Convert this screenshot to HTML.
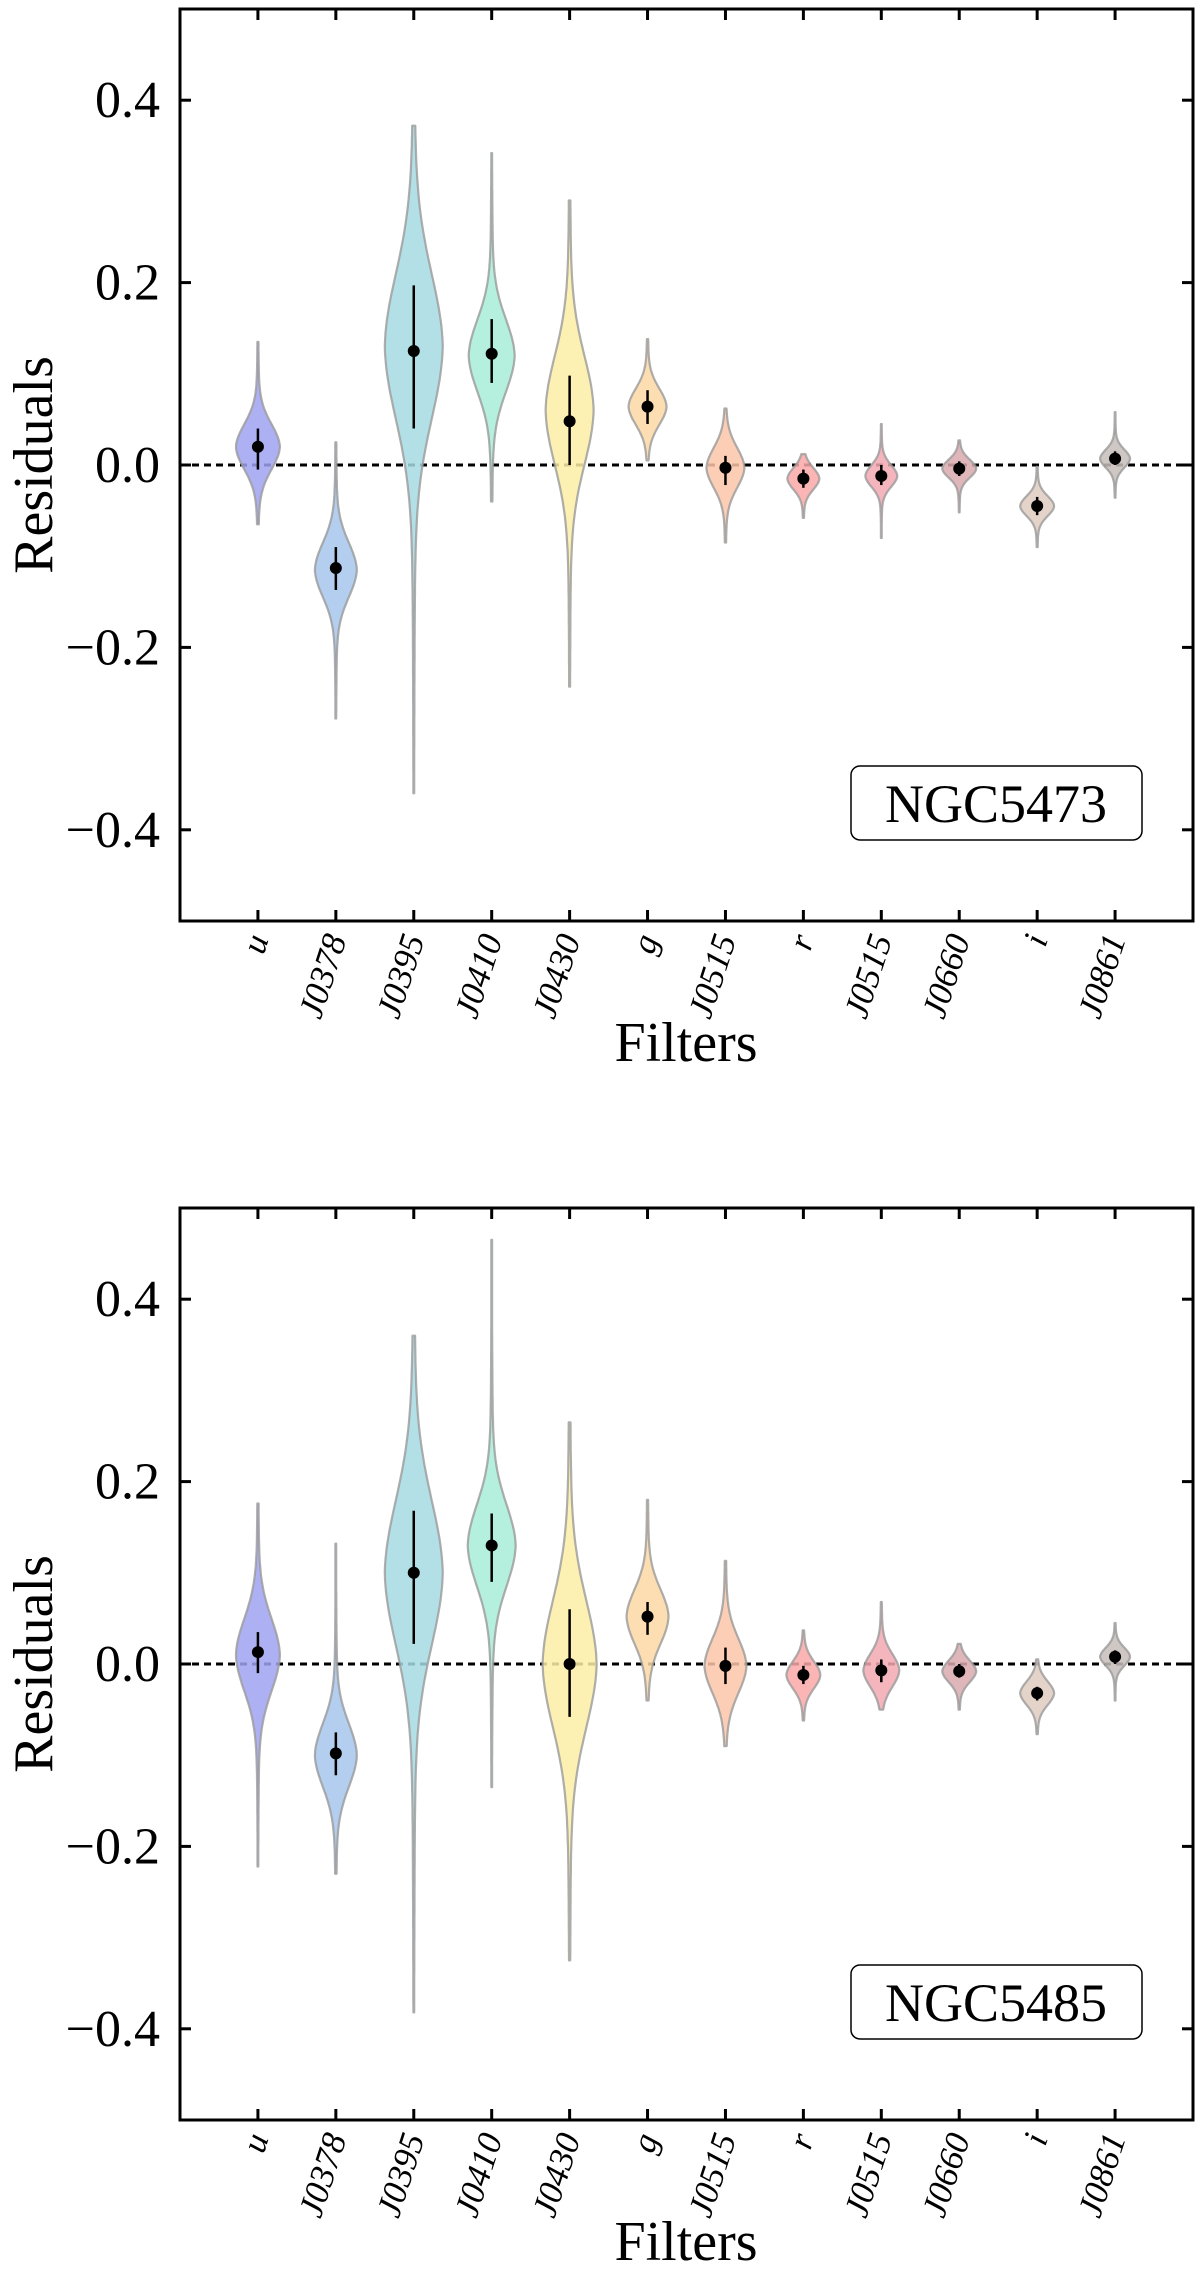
<!DOCTYPE html>
<html><head><meta charset="utf-8">
<style>
html,body{margin:0;padding:0;background:#fff;}
svg{display:block;font-family:"Liberation Serif",serif;}
</style></head>
<body>
<svg id="chart" width="1200" height="2287" viewBox="0 0 1200 2287" xmlns="http://www.w3.org/2000/svg"></svg>
<script>
const categories = ["u","J0378","J0395","J0410","J0430","g","J0515","r","J0515","J0660","i","J0861"];
const fillColors = ["#9fa3f2","#a6c6ec","#a6dbe3","#a8ecd8","#fcefa6","#fdd8a4","#fcc6a8","#fba8a8","#f2a8b2","#d9a9ae","#dfcbc0","#c6bdb8"];
const yTicks = [-0.4,-0.2,0.0,0.2,0.4];
const yTickLabels = ["\u22120.4","\u22120.2","0.0","0.2","0.4"];
const panelNames = ["NGC5473","NGC5485"];
// top panel
const p1Median = [0.02,-0.113,0.125,0.122,0.048,0.064,-0.003,-0.015,-0.012,-0.004,-0.045,0.007];
const p1ErrHi  = [0.04,-0.09,0.197,0.16,0.098,0.082,0.01,-0.005,0.0,0.004,-0.035,0.015];
const p1ErrLo  = [-0.005,-0.137,0.04,0.09,0.0,0.045,-0.022,-0.025,-0.022,-0.012,-0.055,0.0];
const p1Max    = [0.135,0.025,0.372,0.342,0.29,0.138,0.062,0.012,0.045,0.027,-0.002,0.058];
const p1Min    = [-0.065,-0.278,-0.36,-0.04,-0.243,0.005,-0.085,-0.058,-0.08,-0.052,-0.09,-0.036];
const p1Mode   = [0.02,-0.115,0.13,0.12,0.06,0.064,-0.003,-0.015,-0.012,-0.004,-0.045,0.007];
const p1Spread = [0.025,0.03,0.08,0.04,0.06,0.02,0.022,0.012,0.012,0.01,0.011,0.01];
const p1Density= [22,21,29,23,24,19,19,16,16,17,17,15];
// bottom panel
const p2Median = [0.013,-0.098,0.1,0.13,0.0,0.052,-0.002,-0.012,-0.007,-0.008,-0.032,0.008];
const p2ErrHi  = [0.035,-0.075,0.168,0.165,0.06,0.068,0.018,-0.002,0.005,0.0,-0.025,0.015];
const p2ErrLo  = [-0.01,-0.122,0.022,0.09,-0.058,0.032,-0.022,-0.022,-0.02,-0.015,-0.04,0.0];
const p2Max    = [0.176,0.132,0.36,0.465,0.265,0.18,0.113,0.037,0.068,0.022,0.005,0.045];
const p2Min    = [-0.222,-0.23,-0.382,-0.135,-0.325,-0.04,-0.09,-0.062,-0.05,-0.05,-0.077,-0.04];
const p2Mode   = [0.01,-0.1,0.1,0.13,0.0,0.052,-0.002,-0.012,-0.007,-0.008,-0.032,0.008];
const p2Spread = [0.04,0.035,0.08,0.045,0.07,0.03,0.03,0.015,0.018,0.012,0.013,0.01];
const p2Density= [22,21,29,24,27,21,21,17,18,17,17,15];

const NS="http://www.w3.org/2000/svg";
const svg=document.getElementById('chart');
function mk(tag,attrs,parent){const e=document.createElementNS(NS,tag);for(const k in attrs)e.setAttribute(k,attrs[k]);(parent||svg).appendChild(e);return e;}

function drawPanel(idx,top,bottom,data){
  const L=180,R=1193;
  const g=mk('g',{});
  
  
  const xs=i=>L+(i+1)*(R-L)/13;
  const ys=v=>top+(0.5-v)*(bottom-top);
  const zl=mk('line',{x1:L,x2:R,y1:ys(0),y2:ys(0),stroke:'#000','stroke-width':3,'stroke-dasharray':'7,5'},g);
  
  
  categories.forEach((c,i)=>{
    const cx=xs(i);
    const lo=data.min[i],hi=data.max[i],m=data.mode[i],s=data.spread[i],W=data.dens[i];
    const n=100,right=[],left=[];
    for(let k=0;k<=n;k++){
      const v=hi-(hi-lo)*k/n;
      const d=Math.abs(v-m)/s;
      let w=W*(0.85*Math.exp(-0.5*d*d)+0.15*Math.exp(-d/2.5));
      w=Math.max(w,0.4);
      right.push([cx+w,ys(v)]);left.push([cx-w,ys(v)]);
    }
    const pts=right.concat(left.reverse()).map(p=>p[0].toFixed(1)+','+p[1].toFixed(1)).join(' ');
    const vp=mk('polygon',{points:pts,fill:fillColors[i],'fill-opacity':0.85,stroke:'#9a9a9a','stroke-opacity':0.8,'stroke-width':2.2,'stroke-linejoin':'round'},g);
    
    
    const eb=mk('line',{x1:cx,x2:cx,y1:ys(data.hi[i]),y2:ys(data.lo[i]),stroke:'#000','stroke-width':2.5},g);
    
    
    const pt=mk('circle',{cx:cx,cy:ys(data.med[i]),r:6,fill:'#000'},g);
    
    
    mk('line',{x1:cx,x2:cx,y1:bottom,y2:bottom-11,stroke:'#000','stroke-width':3},g);
    mk('line',{x1:cx,x2:cx,y1:top,y2:top+11,stroke:'#000','stroke-width':3},g);
    const tl=mk('text',{x:0,y:0,'font-size':35,'font-style':'italic','text-anchor':'end',transform:`translate(${cx+11},${bottom+18}) rotate(-72)`},g);
    tl.textContent=c;
    
    
  });
  yTicks.forEach((t,j)=>{
    const y=ys(t);
    mk('line',{x1:L,x2:L+11,y1:y,y2:y,stroke:'#000','stroke-width':3},g);
    mk('line',{x1:R,x2:R-11,y1:y,y2:y,stroke:'#000','stroke-width':3},g);
    const tt=mk('text',{x:L-20,y:y+17,'font-size':52,'text-anchor':'end'},g);
    tt.textContent=yTickLabels[j];
    
    
  });
  const fr=mk('rect',{x:L,y:top,width:R-L,height:bottom-top,fill:'none',stroke:'#000','stroke-width':3},g);
  
  
  const yl=mk('text',{x:0,y:0,'font-size':56,'text-anchor':'middle',transform:`translate(52,${ys(0)}) rotate(-90)`},g);
  yl.textContent='Residuals';
  
  
  const xl=mk('text',{x:686,y:bottom+140,'font-size':56,'text-anchor':'middle'},g);
  xl.textContent='Filters';
  
  
  const by=ys(-0.33);
  const box=mk('rect',{x:851,y:by,width:291,height:74,rx:9,fill:'#fff',stroke:'#000','stroke-width':1.5},g);
  
  
  const bt=mk('text',{x:996,y:by+56,'font-size':54,'text-anchor':'middle'},g);
  bt.textContent=panelNames[idx];
  
  
}
drawPanel(0,9,921,{med:p1Median,hi:p1ErrHi,lo:p1ErrLo,max:p1Max,min:p1Min,mode:p1Mode,spread:p1Spread,dens:p1Density});
drawPanel(1,1208,2120,{med:p2Median,hi:p2ErrHi,lo:p2ErrLo,max:p2Max,min:p2Min,mode:p2Mode,spread:p2Spread,dens:p2Density});
</script>
</body></html>
